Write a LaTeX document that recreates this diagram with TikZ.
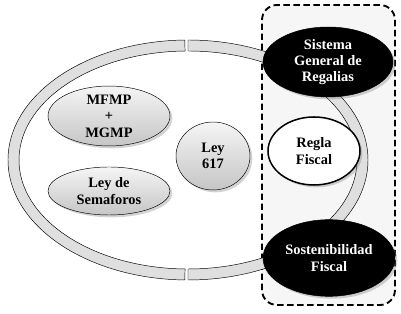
\documentclass[tikz,border=0pt]{standalone}
\usepackage{fontspec}
\setmainfont{Liberation Serif}
\usetikzlibrary{shapes.geometric,shadows}
\begin{document}
\begin{tikzpicture}[x=0.3mm, y=0.3mm,
  font=\fontsize{12.3}{14}\selectfont\bfseries,
  soft/.style={drop shadow={shadow xshift=0.7mm, shadow yshift=-0.7mm, opacity=0.35}},
  grayoval/.style={ellipse, draw=black, thin, inner sep=0pt, align=center,
    top color=gray!8, bottom color=gray!45, soft},
  blackoval/.style={ellipse, draw=black, fill=black, text=white, inner sep=0pt,
    align=center, soft},
  ring/.style={draw=black, thin, fill=gray!25}]
  \useasboundingbox (0,0) rectangle (401,314);
  % dashed frame
  \draw[dash pattern=on 1.9mm off 1.1mm, line width=1.6pt, fill=gray!7,
    rounded corners=4.5mm] (262,9) rectangle (395,309);
  % cycle ring
  \foreach \a/\b in {91/269, 270/450} {
    \draw[ring] ({188+180*cos(\a)},{154+120*sin(\a)})
      arc[start angle=\a, end angle=\b, x radius=180, y radius=120]
      -- ({188+169*cos(\b)},{154+109*sin(\b)})
      arc[start angle=\b, end angle=\a, x radius=169, y radius=109] -- cycle;
  }
  % nodes
  \node[blackoval, minimum width=39mm, minimum height=21mm] (sgr) at (328,252)
    {Sistema\\General de\\Regalias};
  \node[blackoval, minimum width=39.6mm, minimum height=23mm] (sost) at (329,56)
    {Sostenibilidad\\Fiscal};
  \node[ellipse, draw=black, line width=1.3pt, fill=white, inner sep=0pt,
    align=center, soft, minimum width=27.6mm, minimum height=20.4mm] (regla) at (314,163)
    {Regla\\Fiscal};
  \node[grayoval, minimum width=22.2mm, minimum height=20.4mm] (ley) at (213,158)
    {Ley\\617};
  \node[grayoval, minimum width=36.6mm, minimum height=16.8mm] (mfmp) at (109,198)
    {MFMP\\+\\MGMP};
  \node[grayoval, minimum width=36.6mm, minimum height=14.4mm] (sem) at (109,123)
    {Ley de\\Semaforos};
\end{tikzpicture}
\end{document}
